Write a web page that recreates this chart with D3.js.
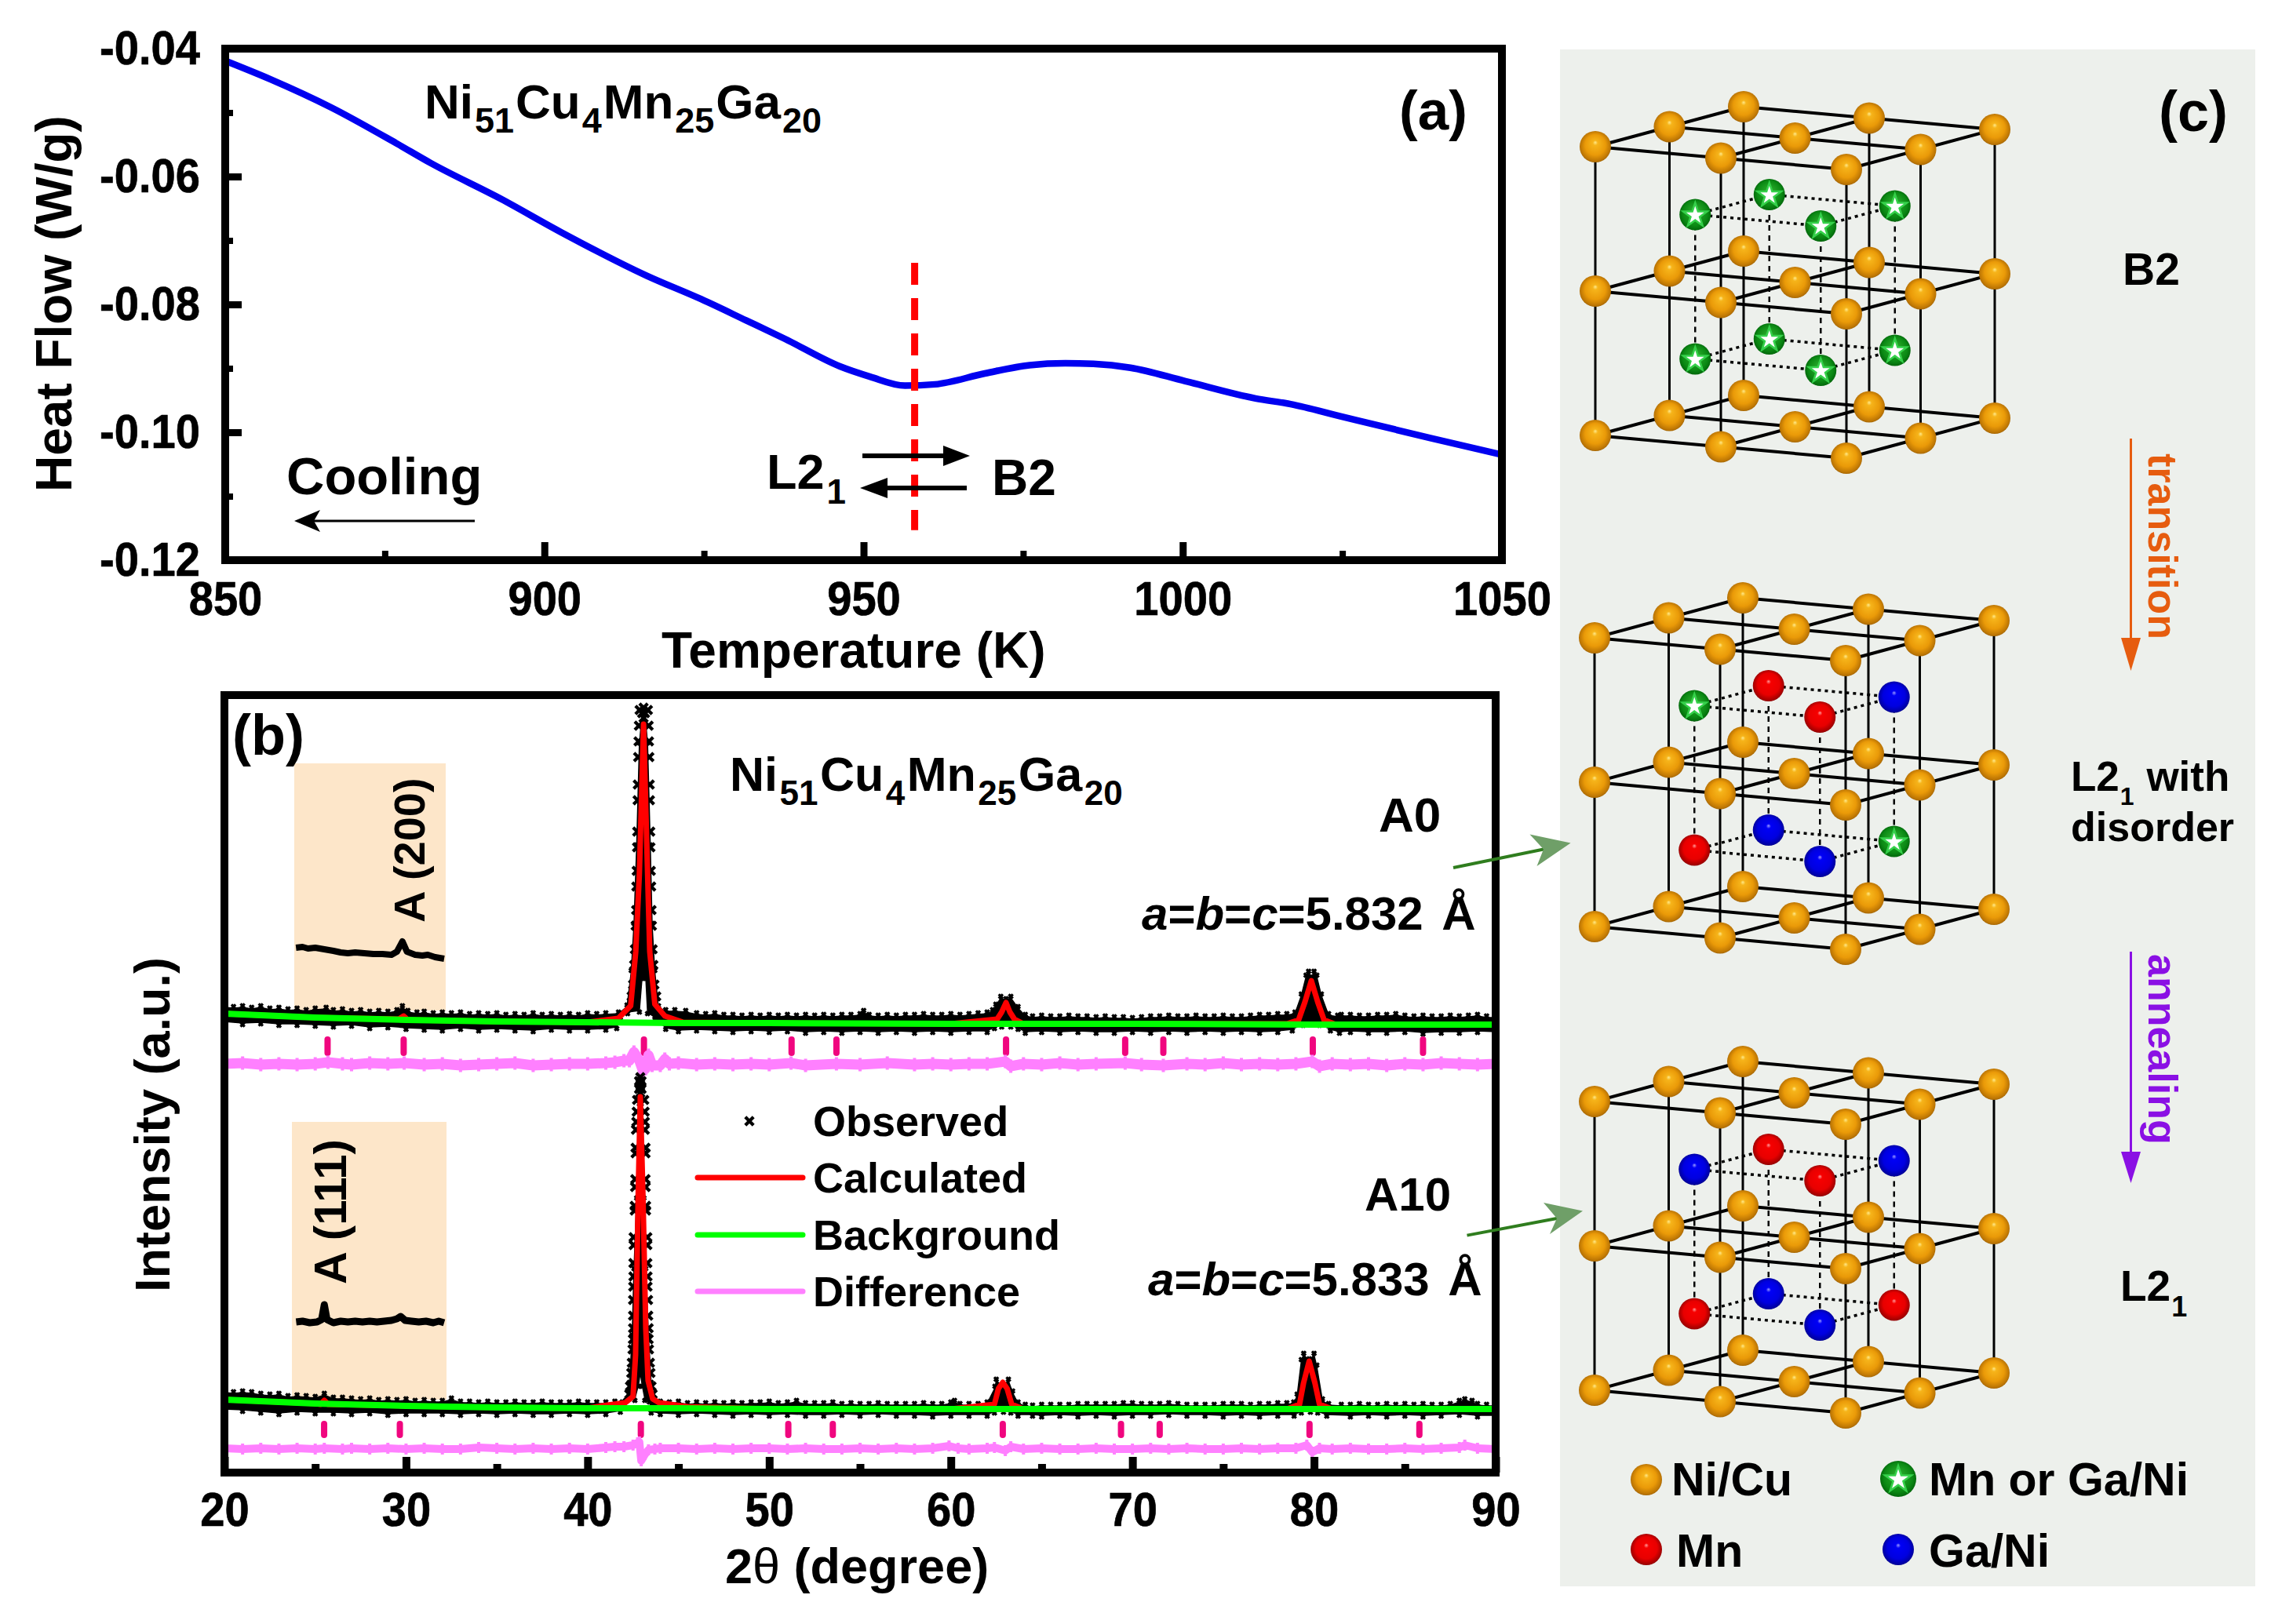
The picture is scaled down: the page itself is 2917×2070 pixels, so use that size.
<!DOCTYPE html>
<html><head><meta charset="utf-8">
<script src="https://cdn.jsdelivr.net/npm/d3@7"></script>
<style>html,body{margin:0;padding:0;background:#fff}svg{display:block}
text{font-family:"Liberation Sans",Arial,sans-serif;font-weight:700;fill:#000}</style>
</head><body><svg id="c" width="2917" height="2070"></svg>
<script>
// ---------- panel (a) data ----------
const tempK=[850,857.1,866.6,876.8,882.2,893.2,902.6,916,924.6,931.6,937.7,946.3,951,956.5,961.2,969,976,981.6,986,991.8,1000.4,1011.4,1016.9,1024.7,1038.8,1050];
const heatFlow=[-0.0419,-0.0448,-0.0492,-0.0548,-0.0579,-0.0635,-0.0687,-0.0755,-0.0792,-0.0825,-0.0854,-0.0897,-0.0913,-0.0927,-0.0925,-0.0908,-0.0895,-0.0892,-0.0893,-0.0899,-0.0920,-0.0947,-0.0956,-0.0975,-0.1009,-0.1035];
const tempTicks=[850,900,950,1000,1050], tempMinor=[875,925,975,1025];
const flowTicks=[-0.04,-0.06,-0.08,-0.10,-0.12], flowMinor=[-0.05,-0.07,-0.09,-0.11];
const transitionT=958, transitionSpan=[-0.0735,-0.1153];
// ---------- panel (b) data: [2theta, intensity] ----------
const angleTicks=[20,30,40,50,60,70,80,90], angleMinor=[25,35,45,55,65,75,85];
const obsTopA0=[[20,595],[20.5,594],[21,595],[21.5,593],[22,595],[22.5,592],[23,593],[23.5,591],[24,592],[24.5,590],[25,592],[25.6,593],[26,590],[26.5,591],[27,589],[27.5,590],[28,588],[28.5,589],[29,588],[29.5,590],[29.8,595],[30.1,589],[30.6,587],[31,588],[31.5,586],[32,587],[32.5,586],[33,587],[33.5,585],[34,586],[34.5,585],[35,586],[35.5,584],[36,585],[36.5,584],[37,586],[37.5,584],[38,585],[38.5,584],[39,585],[39.5,584],[40,586],[40.5,585],[41,586],[41.7,587],[42.17,596],[42.4,640],[42.55,700],[42.7,800],[42.85,930],[43,970],[43.16,970],[43.3,930],[43.45,800],[43.55,700],[43.7,640],[43.9,595],[44.3,590],[44.8,590],[45.4,589],[46,586],[46.5,585],[47,586],[47.5,584],[48,584],[48.5,583],[49,584],[49.5,583],[50,584],[50.5,583],[51,584],[51.5,583],[52,584],[52.5,583],[53,584],[53.5,583],[54,584],[54.5,584],[55,585],[55.2,589],[55.5,584],[56,583],[56.5,584],[57,583],[57.5,584],[58,584],[58.5,585],[59,584],[59.5,584],[60,585],[60.5,584],[61,585],[61.5,586],[62,587],[62.3,590],[62.48,597],[62.75,607],[63.04,604],[63.3,607],[63.7,594],[64.1,584],[64.5,582],[65,583],[65.5,582],[66,582],[66.5,583],[67,582],[67.5,582],[68,581],[68.5,582],[69,581],[69.5,581],[70,580],[70.5,581],[71,582],[71.5,582],[72,583],[72.5,582],[73,582],[73.5,583],[74,582],[74.5,582],[75,583],[75.5,582],[76,582],[76.5,583],[77,584],[77.5,584],[78,585],[78.5,585],[78.95,587],[79.3,610],[79.56,634],[79.7,639],[79.85,632],[80,639],[80.15,634],[80.4,610],[80.8,585],[81.3,583],[81.5,584],[82,584],[82.5,583],[83,583],[83.5,584],[84,584],[84.5,585],[85,583],[85.5,582],[86,583],[86.5,582],[87,582],[87.5,583],[88,582],[88.5,583],[89,584],[89.5,582],[90,582]];
const obsBotA0=[[20,573],[21,571],[22,572],[23,570],[24,570],[25,569],[26,568],[27,569],[28,566],[29,567],[30,565],[31,564],[32,563],[33,565],[34,563],[35,564],[36,563],[37,562],[38,564],[39,563],[40,563],[41,564],[41.6,566],[41.8,577],[42.2,585],[42.85,587],[43,630],[43.1,630],[43.2,630],[43.3,585],[43.7,578],[44.3,565],[45,562],[46,563],[47,562],[48,561],[49,562],[50,561],[51,562],[52,560],[53,561],[54,560],[55,561],[56,560],[57,561],[58,560],[59,561],[60,560],[61,561],[62,561],[62.4,566],[62.8,568],[63.3,568],[63.7,565],[64.1,560],[65,561],[66,560],[67,561],[68,560],[69,560],[70,561],[71,560],[72,561],[73,560],[74,561],[75,560],[76,561],[77,560],[78,561],[78.8,563],[79.4,570],[80.3,570],[80.9,563],[81.4,560],[82,561],[83,560],[84,560],[85,561],[86,559],[87,560],[88,560],[89,561],[90,560]];
const flankLevelsA0=[972,952,932,912,877,857,817,797,767,747,717,697,667,647,622,607];
const flankLeftA0=[42.86,42.82,42.8,42.78,42.76,42.75,42.73,42.72,42.7,42.68,42.67,42.64,42.6,42.56,42.5,42.42];
const flankRightA0=[43.32,43.36,43.38,43.4,43.42,43.43,43.45,43.46,43.48,43.5,43.52,43.54,43.58,43.62,43.68,43.78];
const crownA0=[[43.08,975],[43.08,962],[43,968],[43.16,968]];
const calcA0=[[20,585],[25,580],[29.6,578],[29.87,582],[30.1,577],[35,575],[40,574],[41.69,579],[42.37,595],[42.65,664],[42.85,764],[43.08,954],[43.3,764],[43.42,664],[43.7,597],[44.25,582],[45.26,574],[50,573],[60,572],[62.55,578],[62.8,587],[63.04,599],[63.25,587],[63.5,578],[64,572],[70,572],[78.5,572],[79.15,577],[79.5,600],[79.85,627],[80.2,600],[80.55,577],[81.2,571],[90,571]];
const bgA0=[[20,585],[25,580],[30,577],[35,575],[40,574],[45,573],[50,573],[60,572],[70,572],[80,571],[90,571]];
const diffA0=[[20,521],[21,522],[22,520],[23,521],[24,520],[25,521],[25.7,523],[26.5,521],[27,520],[28,522],[29,521],[29.9,522],[31,520],[32,521],[33,519],[34,520],[35,521],[36,522],[37,519],[38,520],[39,521],[40,521],[41,522],[41.5,523],[42,525],[42.3,525],[42.55,536],[42.85,525],[43.05,512],[43.2,515],[43.35,532],[43.55,519],[44,519],[44.25,527],[44.5,521],[45,522],[46,520],[47,521],[48,520],[49,521],[50,520],[51.2,522],[52,519],[53.7,521],[55,520],[56.5,522],[58,520],[59,521],[60,520],[61,521],[62,521],[63,524],[63.3,518],[64,521],[65,520],[66,522],[67,520],[68,521],[69.6,522],[70.5,520],[71.7,519],[73,521],[74,520],[75,522],[76,520],[77,521],[78,520],[79,521],[79.9,524],[80.3,518],[81,521],[82,520],[83,521],[84,519],[85,521],[86,520],[87,522],[88,521],[89,520],[90,521]];
const braggA0=[25.68,29.87,43.1,51.23,53.7,63.04,69.6,71.7,79.93,86.0];
const insetA0=[[23.94,669],[24.3,670],[24.6,668],[25,669],[25.5,667],[26,665],[26.4,663],[26.8,662],[27.2,663],[27.7,662],[28.2,661],[28.7,661],[29.2,660],[29.5,664],[29.8,677],[30.05,664],[30.5,660],[30.9,659],[31.2,660],[31.6,657],[32.1,655]];

const obsTopA10=[[20,104],[20.5,103],[21,104],[21.5,103],[22,101],[22.5,100],[23,101],[23.5,98],[24,99],[24.5,98],[25,97],[25.5,101],[26,96],[26.5,96],[27,95],[27.5,94],[28,95],[28.5,93],[29,94],[29.5,93],[30,94],[30.5,92],[31,93],[31.5,92],[32,92],[32.5,95],[33,91],[33.5,91],[34,90],[34.5,91],[35,90],[35.5,90],[36,91],[36.5,90],[37,90],[37.5,91],[38,90],[38.5,90],[39,90],[39.5,91],[40,90],[40.5,90],[41,90],[41.5,91],[42.1,92],[42.3,115],[42.45,175],[42.55,260],[42.7,350],[42.85,470],[42.95,470],[43.1,350],[43.2,260],[43.35,175],[43.5,115],[43.7,92],[44,91],[44.5,90],[45,91],[45.5,89],[46,90],[46.5,89],[47,90],[47.5,89],[48,90],[48.5,89],[49,90],[49.5,90],[50,91],[50.5,89],[51,90],[51.5,92],[52,89],[52.5,89],[53,89],[53.5,90],[54,88],[54.5,89],[55,88],[55.5,88],[56,89],[56.5,88],[57,88],[57.5,88],[58,88],[58.5,89],[59,88],[59.5,88],[60,90],[60.2,92],[60.5,88],[61,88],[61.5,88],[62,90],[62.43,110],[62.5,119],[62.85,113],[63.17,119],[63.4,104],[63.7,90],[64.1,87],[64.5,86],[65,87],[65.5,87],[66,87],[66.5,87],[67,88],[67.5,88],[68,88],[68.5,88],[69,88],[69.5,89],[70,89],[70.5,88],[71,88],[71.5,88],[72,89],[72.5,88],[73,87],[73.5,87],[74,87],[74.5,87],[75,88],[75.5,88],[76,88],[76.5,87],[77,88],[77.5,88],[78,89],[78.5,89],[78.88,90],[79.07,100],[79.3,144],[79.43,152],[79.73,145],[80,152],[80.15,137],[80.46,94],[80.8,88],[81.5,87],[82,87],[82.5,88],[83,87],[83.5,87],[84,88],[84.5,87],[85,88],[85.5,87],[86,88],[86.5,87],[87,87],[87.5,88],[88,92],[88.3,94],[88.7,92],[89,88],[89.5,87],[90,87]];
const obsBotA10=[[20,79],[21,78],[22,76],[23,74],[24,76],[25,75],[26,75],[27,74],[28,75],[29,73],[30,74],[31,74],[32,74],[33,73],[34,74],[35,73],[36,74],[37,73],[38,73],[39,74],[40,73],[41,74],[41.8,77],[41.9,90],[42.6,92],[42.8,110],[42.9,125],[43,110],[43.15,92],[43.4,90],[43.5,76],[44,74],[45,73],[46,74],[47,73],[48,72],[49,73],[50,72],[51,73],[52,72],[53,72],[54,73],[55,72],[56,73],[57,72],[58,72],[59,71],[60,72],[61,72],[62,72],[62.4,76],[62.9,77],[63.3,76],[63.7,72],[64.5,72],[65,71],[66,72],[67,71],[68,72],[69,71],[70,72],[71,72],[72,73],[73,72],[74,72],[75,71],[76,72],[77,71],[78,72],[78.9,72],[79.3,76],[79.8,77],[80.2,76],[80.7,72],[82,71],[83,72],[84,71],[85,72],[86,71],[87,72],[88,73],[89,71],[90,71]];
const flankLevelsA10=[475,460,447,437,414,407,374,364,340,334,300,290,267,250,237,220,200,184,170,157,140,127,110,100];
const flankLeftA10=[42.72,42.7,42.68,42.66,42.64,42.64,42.62,42.61,42.59,42.59,42.53,42.53,42.52,42.52,42.51,42.5,42.5,42.5,42.49,42.47,42.43,42.4,42.33,42.29];
const flankRightA10=[43.12,43.14,43.15,43.15,43.19,43.19,43.19,43.2,43.22,43.22,43.29,43.29,43.29,43.3,43.3,43.33,43.34,43.36,43.36,43.38,43.43,43.46,43.52,43.58];
const crownA10=[[42.9,494],[42.9,504],[42.9,484],[42.83,499],[42.97,499],[42.83,489],[42.97,489]];
const calcA10=[[20,93],[25,88],[25.3,87],[25.5,92],[25.7,87],[30,85],[35,83],[40,82],[40.77,85],[42.07,89],[42.5,97],[42.64,150],[42.78,350],[42.9,479],[43.05,350],[43.2,184],[43.33,117],[43.58,94],[43.94,89],[45.5,84],[50,81],[60,81],[62.4,87],[62.62,107],[62.86,115],[63.1,107],[63.35,87],[64,81],[70,81],[78.5,81],[79.2,87],[79.42,114],[79.73,142],[80.05,114],[80.3,87],[81,81],[90,81]];
const bgA10=[[20,93],[25,88],[30,85],[35,83],[40,82],[45,82],[50,81],[60,81],[70,81],[80,81],[90,81]];
const diffA10=[[20,31],[21,30],[22,31],[23,30],[24,31],[25,30],[25.5,31],[26.5,30],[27,31],[28,30],[29,31],[30,30],[31,31],[32,30],[33,30],[34,32],[35,31],[36,30],[37,31],[38,30],[39,31],[40,30],[41,32],[41.5,33],[42,33],[42.5,35],[42.75,38],[42.85,39],[42.95,15],[43.15,23],[43.35,29],[43.7,30],[44,31],[45,31],[46,30],[47,31],[48,30],[49,31],[50,31],[51,30],[52,31],[53,30],[54,30],[55,31],[56,30],[57,31],[58,30],[59,31],[59.9,34],[60.4,31],[61,30],[62,31],[62.4,32],[63,28],[63.3,33],[64,30],[65,31],[66,30],[67,30],[68,31],[69,30],[70,30],[71,31],[72,30],[73,31],[74,30],[75,30],[76,31],[77,30],[78,31],[79,31],[79.6,35],[79.9,26],[80.3,31],[81,30],[82,31],[83,30],[84,30],[85,31],[86,30],[87,31],[88,32],[88.3,35],[89,31],[90,30]];
const braggA10=[25.49,29.66,42.93,51.05,53.5,62.86,69.37,71.5,79.75,85.8];
const insetA10=[[23.95,192],[24.3,193],[24.7,191],[25.1,192],[25.35,195],[25.5,214],[25.65,195],[26,191],[26.4,193],[26.8,192],[27.2,193],[27.6,192],[28,193],[28.4,192],[28.8,193],[29.2,194],[29.5,196],[29.7,199],[29.95,194],[30.3,193],[30.7,192],[31.1,193],[31.5,191],[31.8,193],[32.1,191]];
const legendNames=["Observed","Calculated","Background","Difference"];
// ---------- panel (c) data: inner-site occupation, layer 0 then layer 1 ----------
const cellB2 =["star","star","star","star","star","star","star","star"];
const cellDis=["star","red","red","blue","red","blue","blue","star"];
const cellL21=["blue","red","red","blue","red","blue","blue","red"];

// ---------- helpers ----------
const svg=d3.select("#c");
const defs=svg.append("defs");
function grad(id,stops){const g=defs.append("radialGradient").attr("id",id).attr("cx","50%").attr("cy","50%").attr("r","56%").attr("fx","50%").attr("fy","36%");
 stops.forEach(s=>g.append("stop").attr("offset",s[0]).attr("stop-color",s[1]));}
grad("gold",[[0,"#ffe98a"],[.14,"#f6b41a"],[.58,"#ea9a08"],[.85,"#bd7604"],[1,"#845000"]]);
grad("red",[[0,"#ff9a9a"],[.14,"#f60000"],[.62,"#e80000"],[.88,"#a00000"],[1,"#5c0000"]]);
grad("blue",[[0,"#9a9aff"],[.14,"#0000f6"],[.62,"#0000e0"],[.88,"#0000a0"],[1,"#000058"]]);
grad("green",[[0,"#30b030"],[.7,"#0b8a14"],[1,"#005a08"]]);

function label(g,x,y,parts,size,o={}){ // parts: strings or {t,sub,it,reg,dx}
 const t=g.append("text").attr("font-size",size).attr("text-anchor",o.anchor||"start");
 if(o.rot!==undefined) t.attr("transform",`translate(${x},${y}) rotate(${o.rot})`); else t.attr("x",x).attr("y",y);
 if(o.fill) t.style("fill",o.fill);
 let down=0;
 (Array.isArray(parts)?parts:[parts]).forEach(p=>{
  if(typeof p==="string")p={t:p};
  const s=t.append("tspan").text(p.t);
  if(p.sub){s.attr("font-size",o.subSize||size*.72).attr("dy",(o.subDy||size*.3)-down);down=o.subDy||size*.3;if(o.subDx)s.attr("dx",o.subDx);}
  else if(down){s.attr("dy",-down);down=0;if(o.subDx)s.attr("dx",o.subDx);}
  if(p.it)s.style("font-style","italic");
  if(p.reg)s.style("font-weight",400);
  if(p.dx)s.attr("dx",p.dx);
 });
 return t;
}
function poly(g,pts,fill){g.append("path").attr("d","M"+pts.map(p=>p.join(",")).join("L")+"Z").attr("fill",fill);}
const tickSqueeze=.92;
function axisStyle(g,w){g.select(".domain").remove();g.selectAll("line").attr("stroke","#000").attr("stroke-width",w);
 g.selectAll("text").attr("font-size",61).attr("font-family",null).style("fill","#000").style("stroke","#000").style("stroke-width",.7)
  .each(function(){const t=d3.select(this),x=+t.attr("x")||0; if(x)t.attr("x",x/tickSqueeze); t.attr("transform",`scale(${tickSqueeze},1)`);});}

// ---------- panel (a) ----------
const xA=d3.scaleLinear([850,1050],[287,1914]);
const yA=d3.scaleLinear([-0.12,-0.04],[714,62]);
const gA=svg.append("g");
const axA=gA.append("g").attr("transform","translate(0,714)").call(d3.axisBottom(xA).tickValues(tempTicks).tickFormat(d3.format("d")).tickSize(-23).tickPadding(27));
axisStyle(axA,9);
const axAm=gA.append("g").attr("transform","translate(0,714)").call(d3.axisBottom(xA).tickValues(tempMinor).tickFormat("").tickSize(-12));axisStyle(axAm,8);
const ayA=gA.append("g").attr("transform","translate(287,0)").call(d3.axisLeft(yA).tickValues(flowTicks).tickFormat(d=>d.toFixed(2)).tickSize(-21).tickPadding(32));
axisStyle(ayA,9);
const ayAm=gA.append("g").attr("transform","translate(287,0)").call(d3.axisLeft(yA).tickValues(flowMinor).tickFormat("").tickSize(-10));axisStyle(ayAm,8);
gA.append("path").attr("d",d3.line().x((d,i)=>xA(tempK[i])).y(d=>yA(d)).curve(d3.curveMonotoneX)(heatFlow)).attr("fill","none").attr("stroke","#0000f0").attr("stroke-width",8.5);
gA.append("rect").attr("x",287).attr("y",62).attr("width",1627).attr("height",652).attr("fill","none").attr("stroke","#000").attr("stroke-width",10);
gA.append("line").attr("x1",xA(transitionT)).attr("x2",xA(transitionT)).attr("y1",yA(transitionSpan[0])).attr("y2",yA(transitionSpan[1])).attr("stroke","#f00").attr("stroke-width",9).attr("stroke-dasharray","28 17");
label(gA,91,627,"Heat Flow (W/g)",64,{rot:-90});
label(gA,843,851,"Temperature (K)",64);
label(gA,541,151,["Ni",{t:"51",sub:1},"Cu",{t:"4",sub:1},"Mn",{t:"25",sub:1},"Ga",{t:"20",sub:1}],62,{subSize:45,subDy:18,subDx:2});
label(gA,1783,165,"(a)",71);
label(gA,365,630,"Cooling",67);
gA.append("line").attr("x1",605).attr("x2",395).attr("y1",664).attr("y2",664).attr("stroke","#000").attr("stroke-width",3);
poly(gA,[[375,664],[408,650],[400,664],[408,678]],"#000");
label(gA,977,623,["L2",{t:"1",sub:1}],63,{subSize:44,subDy:19,subDx:3});
label(gA,1264,631,"B2",64);
gA.append("line").attr("x1",1099).attr("x2",1210).attr("y1",581).attr("y2",581).attr("stroke","#000").attr("stroke-width",6);
poly(gA,[[1236,581],[1202,568],[1202,594]],"#000");
gA.append("line").attr("x1",1232).attr("x2",1125).attr("y1",622).attr("y2",622).attr("stroke","#000").attr("stroke-width",6);
poly(gA,[[1096,622],[1131,609],[1131,635]],"#000");

// ---------- panel (b) ----------
const xB=d3.scaleLinear([20,90],[286,1906]);
const yB=d3.scaleLinear([0,991],[1877,886]);
const gB=svg.append("g");
gB.append("rect").attr("x",375).attr("y",973).attr("width",193).attr("height",315).attr("fill","#fde6c9");
gB.append("rect").attr("x",372).attr("y",1430).attr("width",197).attr("height",354).attr("fill","#fde6c9");
const lineB=d3.line().x(d=>xB(d[0])).y(d=>yB(d[1]));
const crossPath="M-5.2,-5.2L5.2,5.2M-5.2,5.2L5.2,-5.2";
const fuzzPath="M-2.6,-2.6L2.6,2.6M-2.6,2.6L2.6,-2.6";
function pattern(top,bot,levels,left,right,crown,calc,bg,diff,bragg,inset,diffW,tickSpan,insetW){
 gB.append("path").attr("d",lineB(inset)).attr("fill","none").attr("stroke","#000").attr("stroke-width",insetW).attr("stroke-linejoin","round");
 const inTop=top.map(d=>[d[0],d[1]-2]), inBot=bot.map(d=>[d[0],d[1]+2]);
 gB.append("path").attr("d",lineB(inTop.concat(inBot.slice().reverse()))+"Z").attr("fill","#000").attr("stroke","#000").attr("stroke-width",1.5);
 gB.selectAll(null).data(top.concat(bot)).enter().append("path").attr("d",fuzzPath).attr("transform",d=>`translate(${xB(d[0])},${yB(d[1])})`).attr("stroke","#000").attr("stroke-width",3.4);
 const marks=levels.map((l,i)=>[left[i],l]).concat(levels.map((l,i)=>[right[i],l]),crown);
 gB.selectAll(null).data(marks).enter().append("path").attr("d",crossPath).attr("transform",d=>`translate(${xB(d[0])},${yB(d[1])})`).attr("stroke","#000").attr("stroke-width",4.2).attr("fill","none");
 gB.selectAll(null).data(bragg).enter().append("line").attr("x1",d=>xB(d)).attr("x2",d=>xB(d)).attr("y1",yB(tickSpan[0])).attr("y2",yB(tickSpan[1])).attr("stroke","#f0067f").attr("stroke-width",8).attr("stroke-linecap","round");
 gB.append("path").attr("d",lineB(diff)).attr("fill","none").attr("stroke","#ff80ff").attr("stroke-width",diffW).attr("stroke-linejoin","round");
 gB.selectAll(null).data(diff).enter().append("rect").attr("x",d=>xB(d[0])-2).attr("width",4).attr("y",d=>yB(d[1])-diffW/2-2).attr("height",diffW+4).attr("fill","#ff80ff");
 gB.append("path").attr("d",lineB(calc)).attr("fill","none").attr("stroke","#ff0000").attr("stroke-width",7).attr("stroke-linejoin","round");
 gB.append("path").attr("d",lineB(bg)).attr("fill","none").attr("stroke","#00ff00").attr("stroke-width",8);
}
pattern(obsTopA0,obsBotA0,flankLevelsA0,flankLeftA0,flankRightA0,crownA0,calcA0,bgA0,diffA0,braggA0,insetA0,13,[552,535],8);
pattern(obsTopA10,obsBotA10,flankLevelsA10,flankLeftA10,flankRightA10,crownA10,calcA10,bgA10,diffA10,braggA10,insetA10,10,[62,48],9);
const axB=gB.append("g").attr("transform","translate(0,1877)").call(d3.axisBottom(xB).tickValues(angleTicks).tickFormat(d3.format("d")).tickSize(-20).tickPadding(25));axisStyle(axB,10);
const axBm=gB.append("g").attr("transform","translate(0,1877)").call(d3.axisBottom(xB).tickValues(angleMinor).tickFormat("").tickSize(-11));axisStyle(axBm,10);
gB.append("rect").attr("x",286).attr("y",886).attr("width",1620).attr("height",991).attr("fill","none").attr("stroke","#000").attr("stroke-width",10);
label(gB,216,1647,"Intensity (a.u.)",63,{rot:-90});
label(gB,924,2018,["2",{t:"θ",reg:1}," (degree)"],63);
label(gB,296,962,"(b)",72);
label(gB,930,1008,["Ni",{t:"51",sub:1},"Cu",{t:"4",sub:1},"Mn",{t:"25",sub:1},"Ga",{t:"20",sub:1}],61,{subSize:44,subDy:18,subDx:2.5});
label(gB,541,1176,"A (200)",56,{rot:-90});
label(gB,441,1637,"A (111)",58,{rot:-90});
label(gB,1757,1060,"A0",62);
label(gB,1739,1543,"A10",60);
const lat=v=>[{t:"a",it:1},"=",{t:"b",it:1},"=",{t:"c",it:1},"="+v,{t:" Å",dx:7}];
label(gB,1455,1185,lat("5.832"),60);
label(gB,1463,1651,lat("5.833"),60);
// legend
const lgY=[1429,1501,1574,1646], lgCol=[null,"#ff0000","#00ff00","#ff80ff"];
legendNames.forEach((n,i)=>{
 label(gB,1036,lgY[i]+19,n,54);
 if(i===0)gB.append("path").attr("d",crossPath).attr("transform",`translate(955,${lgY[i]})`).attr("stroke","#000").attr("stroke-width",4.2);
 else gB.append("line").attr("x1",889).attr("x2",1023).attr("y1",lgY[i]).attr("y2",lgY[i]).attr("stroke",lgCol[i]).attr("stroke-width",7).attr("stroke-linecap","round");
});

// ---------- panel (c) ----------
const gC=svg.append("g");
gC.append("rect").attr("x",1988).attr("y",63).attr("width",886).attr("height",1959).attr("fill","#edf0ec");
const uX=d3.scaleLinear([0,2],[0,320]),uY=d3.scaleLinear([0,2],[0,29]);
const vX=d3.scaleLinear([0,2],[0,189]),vY=d3.scaleLinear([0,2],[0,-51]);
const wY=d3.scaleLinear([0,2],[0,368]);
const latticeIdx=[0,1,2], innerIdx=[0.5,1.5];
function atom(g,x,y,kind,r=20){
 if(kind==="star"){
  g.append("circle").attr("cx",x).attr("cy",y).attr("r",r+(r>20?1:0)).attr("fill","url(#green)");
  g.append("path").attr("d",d3.symbol(d3.symbolStar,r*r*.72)()).attr("transform",`translate(${x},${y+1})`).attr("fill","#fff").attr("stroke","#35d04a").attr("stroke-width",2.5);
 } else g.append("circle").attr("cx",x).attr("cy",y).attr("r",r).attr("fill",`url(#${kind})`);
}
function cell(ox,oy,kinds){
 const g=gC.append("g");
 const P=(i,j,k)=>[ox+uX(i)+vX(j),oy+uY(i)+vY(j)+wY(k)];
 const seg=(a,b,w,dash)=>{const l=g.append("line").attr("x1",a[0]).attr("y1",a[1]).attr("x2",b[0]).attr("y2",b[1]).attr("stroke","#000").attr("stroke-width",w);if(dash)l.attr("stroke-dasharray",dash);};
 latticeIdx.forEach(k=>latticeIdx.forEach(a=>{
  seg(P(0,a,k),P(2,a,k),4);
  seg(P(a,0,k),P(a,2,k),4);
 }));
 latticeIdx.forEach(i=>latticeIdx.forEach(j=>{ if(i===1&&j===1)return; seg(P(i,j,0),P(i,j,2),3); }));
 innerIdx.forEach(k=>innerIdx.forEach(a=>{
  seg(P(.5,a,k),P(1.5,a,k),3.5,"4 5");
  seg(P(a,.5,k),P(a,1.5,k),3.5,"4 5");
 }));
 innerIdx.forEach(i=>innerIdx.forEach(j=>seg(P(i,j,.5),P(i,j,1.5),2.5,"7 6")));
 latticeIdx.forEach(k=>latticeIdx.forEach(j=>latticeIdx.forEach(i=>{const p=P(i,j,k);atom(g,p[0],p[1],"gold");})));
 const order=[[.5,.5],[.5,1.5],[1.5,.5],[1.5,1.5]];
 innerIdx.forEach((k,kk)=>order.forEach((o,n)=>{const p=P(o[0],o[1],k);atom(g,p[0],p[1],kinds[kk*4+n]);}));
}
cell(2033,187,cellB2);
cell(2032,813,cellDis);
cell(2032,1404,cellL21);
label(gC,2751,167,"(c)",72);
label(gC,2705,363,"B2",57);
label(gC,2639,1008,["L2",{t:"1",sub:1}," with"],53,{subSize:32,subDy:18,subDx:1});
label(gC,2639,1072,"disorder",52);
label(gC,2702,1658,["L2",{t:"1",sub:1}],55,{subSize:36,subDy:20,subDx:1});
gC.append("line").attr("x1",2715.5).attr("x2",2715.5).attr("y1",559).attr("y2",815).attr("stroke","#e65c0f").attr("stroke-width",3);
poly(gC,[[2703,813],[2728,813],[2715.5,855]],"#e65c0f");
gC.append("line").attr("x1",2715.5).attr("x2",2715.5).attr("y1",1213).attr("y2",1470).attr("stroke","#8a10e4").attr("stroke-width",3);
poly(gC,[[2703,1468],[2728,1468],[2715.5,1508]],"#8a10e4");
label(gC,2738,578,"transition",52,{rot:90,fill:"#e65c0f"});
label(gC,2738,1216,"annealing",52,{rot:90,fill:"#8a10e4"});
function pointer(x0,y0,nx,ny,tx,ty,ax,ay,bx,by){
 svg.append("line").attr("x1",x0).attr("y1",y0).attr("x2",nx).attr("y2",ny).attr("stroke","#2f7d1e").attr("stroke-width",4);
 poly(svg,[[tx,ty],[ax,ay],[nx,ny],[bx,by]],"#6f9f68");
}
pointer(1852,1106,1967,1082.5,2001.6,1074.6,1949.5,1063.6,1958.5,1104);
pointer(1869.5,1574.6,1984,1553,2017,1543.6,1967,1533,1975,1573);
atom(gC,2098,1886,"gold");
atom(gC,2419,1885,"star",22);
atom(gC,2098,1975,"red");
atom(gC,2419,1975,"blue");
label(gC,2130,1906,"Ni/Cu",59);
label(gC,2458,1906,"Mn or Ga/Ni",59);
label(gC,2136,1997,"Mn",59);
label(gC,2458,1997,"Ga/Ni",59);
</script></body></html>
